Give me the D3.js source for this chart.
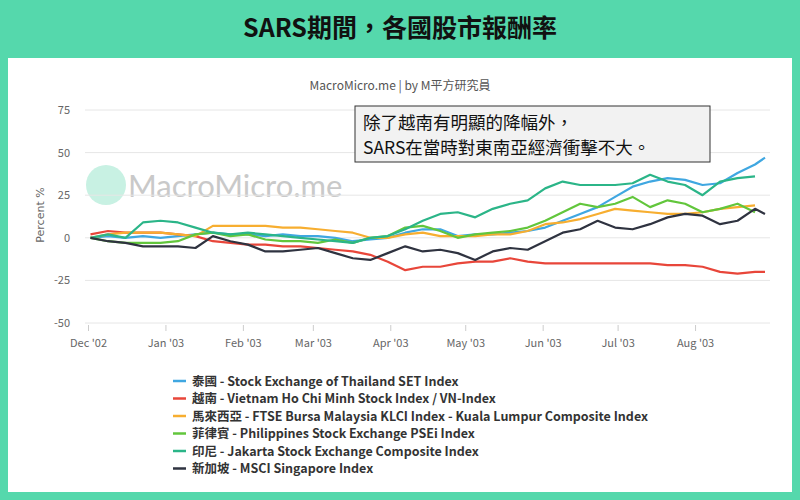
<!DOCTYPE html>
<html><head><meta charset="utf-8">
<script src="https://cdn.jsdelivr.net/npm/d3@7"></script>
<style>body{margin:0;background:#fff;} text{font-family:"Noto Sans CJK TC","Noto Sans",sans-serif;}</style>
</head><body><svg id="c" width="800" height="500"></svg>
<script>
// weekly dates, Dec 2002 - Aug 2003
var weeks = ["2002-12-02","2002-12-09","2002-12-16","2002-12-23","2002-12-30",
  "2003-01-06","2003-01-13","2003-01-20","2003-01-27","2003-02-03","2003-02-10","2003-02-17","2003-02-24",
  "2003-03-03","2003-03-10","2003-03-17","2003-03-24","2003-03-31","2003-04-07","2003-04-14","2003-04-21","2003-04-28",
  "2003-05-05","2003-05-12","2003-05-19","2003-05-26","2003-06-02","2003-06-09","2003-06-16","2003-06-23","2003-06-30",
  "2003-07-07","2003-07-14","2003-07-21","2003-07-28","2003-08-04","2003-08-11","2003-08-18","2003-08-25","2003-08-29"];

var thailand  = [0,1,0,1,0, 1,2,3,2, 2,1,2,1, 1,0,-2,-1,0, 3,5,5,1, 2,2,3,4, 6,10,14,18,24, 30,33,35,34, 31,32,38,43, 47];
var vietnam   = [2,4,3,3,3, 2,1,-2,-3, -4,-4,-5,-5, -6,-7,-8,-10,-14, -19,-17,-17,-15, -14,-14,-12,-14, -15,-15,-15,-15,-15, -15,-15,-16,-16, -17,-20,-21,-20, -20];
var malaysia  = [0,2,3,3,3, 2,1,7,7, 7,7,6,6, 5,4,3,0, 0,2,3,1, 1,1,2,2, 4,8,9,11,14, 17,16,15,14, 14,15,17,18, 19];
var philippines = [0,-2,-3,-3,-3, -2,2,3,1, 2,-1,-2,-2, -3,-1,-3,0, 1,6,7,4, 0,2,3,4, 6,10,15,20,18, 20,24,18,22, 20,15,17,20, 15];
var indonesia = [0,2,0,9,10, 9,6,3,2, 3,2,1,0, -1,-2,-3,0, 1,5,10,14, 15,12,17,20, 22,29,33,31,31, 31,32,37,33, 31,25,33,35, 36];
var singapore = [0,-2,-3,-5,-5, -5,-6,1,-2, -4,-8,-8,-7, -6,-9,-12,-13,-9, -5,-8,-7,-9, -13,-8,-6,-7, -2,3,5,10,6, 5,8,12,14, 13,8,10,17, 14];

var names = ["泰國 - Stock Exchange of Thailand SET Index",
  "越南 - Vietnam Ho Chi Minh Stock Index / VN-Index",
  "馬來西亞 - FTSE Bursa Malaysia KLCI Index - Kuala Lumpur Composite Index",
  "菲律賓 - Philippines Stock Exchange PSEi Index",
  "印尼 - Jakarta Stock Exchange Composite Index",
  "新加坡 - MSCI Singapore Index"];
var colors = ["#3fa7e1","#e8463a","#f7ae30","#62c63c","#2bb588","#2f3340"];
var yTicks = [75,50,25,0,-25,-50];
var monthTicks = ["2002-12-01","2003-01-01","2003-02-01","2003-03-01","2003-04-01","2003-05-01","2003-06-01","2003-07-01","2003-08-01"];

var series = [thailand, vietnam, malaysia, philippines, indonesia, singapore];
var parse = d3.timeParse("%Y-%m-%d");
var dates = weeks.map(parse);

var svg = d3.select("#c");
svg.append("rect").attr("width",800).attr("height",500).attr("fill","#55d8ac");
svg.append("text").attr("x",400).attr("y",37).attr("text-anchor","middle")
  .attr("font-size",25).attr("font-weight","bold").attr("fill","#111").text("SARS期間，各國股市報酬率");
svg.append("rect").attr("x",8).attr("y",58).attr("width",784).attr("height",434).attr("fill","#fff");

svg.append("text").attr("x",400).attr("y",90).attr("text-anchor","middle")
  .attr("font-size",12).attr("fill","#555").text("MacroMicro.me | by M平方研究員");

var x = d3.scaleTime().domain([parse("2002-12-01"), parse("2003-08-29")]).range([88, 765]);
var y = d3.scaleLinear().domain([-50, 75]).range([323, 110]);

// watermark
svg.append("circle").attr("cx",106).attr("cy",185).attr("r",20).attr("fill","#c8f1e3");
svg.append("text").attr("x",128).attr("y",197).attr("font-size",31).attr("fill","#c9c9c9")
  .style("font-family","Lato, sans-serif").text("MacroMicro.me");

var g = svg.append("g");
g.selectAll("line.grid").data(yTicks).enter().append("line")
  .attr("x1",85).attr("x2",770).attr("y1",d=>y(d)).attr("y2",d=>y(d))
  .attr("stroke","#e6e6e6");
g.selectAll("text.yt").data(yTicks).enter().append("text")
  .attr("x",70).attr("y",d=>y(d)+4).attr("text-anchor","end")
  .attr("font-size",11).attr("fill","#666").text(d=>d);

var xa = svg.append("g").attr("transform","translate(0,325)")
  .call(d3.axisBottom(x).tickValues(monthTicks.map(parse)).tickSize(6)
    .tickFormat(d3.timeFormat("%b '%y")));
xa.select(".domain").remove();
xa.selectAll("line").attr("stroke","#ccc");
xa.selectAll("text").attr("font-size",11).attr("fill","#666").attr("dy","1.2em");

svg.append("text").attr("transform","translate(44,215) rotate(-90)").attr("text-anchor","middle")
  .attr("font-size",11).attr("fill","#666").style("font-family","DejaVu Sans").text("Percent %");

var line = d3.line().x((d,i)=>x(dates[i])).y(d=>y(d));
series.forEach(function(s,k){
  svg.append("path").datum(s).attr("d",line).attr("fill","none")
    .attr("stroke",colors[k]).attr("stroke-width",2.2).attr("stroke-linejoin","round");
});

// annotation
svg.append("rect").attr("x",355).attr("y",106).attr("width",355).attr("height",56)
  .attr("fill","#f2f2f2").attr("stroke","#333").attr("stroke-width",1);
svg.append("text").attr("x",363).attr("y",129).attr("font-size",17.5).attr("fill","#111").text("除了越南有明顯的降幅外，");
svg.append("text").attr("x",363).attr("y",154).attr("font-size",17.5).attr("fill","#111").text("SARS在當時對東南亞經濟衝擊不大。");

// legend
var lg = svg.selectAll("g.lg").data(names).enter().append("g")
  .attr("transform",(d,i)=>"translate(173,"+(381+i*17.5)+")");
lg.append("line").attr("x1",0).attr("x2",13).attr("stroke",(d,i)=>colors[i]).attr("stroke-width",2.5);
lg.append("text").attr("x",19).attr("y",4.5).attr("font-size",12.5).attr("font-weight","bold")
  .attr("fill","#333").text(d=>d);
</script></body></html>
